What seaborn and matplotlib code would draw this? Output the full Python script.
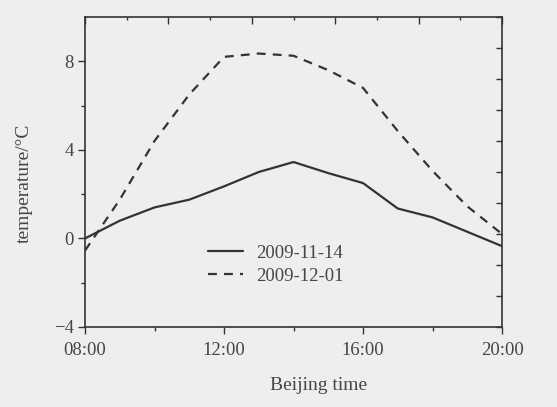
import matplotlib
matplotlib.use("Agg")
import matplotlib.pyplot as plt
import numpy as np
import pandas as pd
import seaborn as sns

# hourly readings, 08:00 .. 20:00
HOURS = [8, 9, 10, 11, 12, 13, 14, 15, 16, 17, 18, 19, 20]
TEMP_1114 = [0.0, 0.8, 1.4, 1.75, 2.35, 3.0, 3.45, 2.95, 2.5, 1.35, 0.95, 0.3, -0.35]
TEMP_1201 = [-0.55, 1.75, 4.4, 6.5, 8.2, 8.35, 8.25, 7.6, 6.8, 4.85, 3.05, 1.45, 0.2]
SERIES = ["2009-11-14", "2009-12-01"]

X_TICKS = [8, 12, 16, 20]
X_LABELS = ["08:00", "12:00", "16:00", "20:00"]
Y_TICKS = [-4, 0, 4, 8]

df = pd.DataFrame({
    "hour": HOURS * 2,
    "temp": TEMP_1114 + TEMP_1201,
    "date": [SERIES[0]] * len(HOURS) + [SERIES[1]] * len(HOURS),
})

sns.set_theme(style="ticks")
plt.rcParams["font.family"] = ["Liberation Serif", "DejaVu Serif"]

BG = "#eeeeee"
INK = "#333333"
TXT = "#454545"

fig = plt.figure(figsize=(5.57, 4.07), dpi=100, facecolor=BG)
ax = fig.add_axes([0.1526, 0.1966, 0.7487, 0.7616])
ax.set_facecolor(BG)

sns.lineplot(
    data=df, x="hour", y="temp", style="date", style_order=SERIES,
    dashes={SERIES[0]: "", SERIES[1]: (4, 3.2)},
    color=INK, linewidth=1.6, ax=ax,
)

ax.set_xlim(8, 20)
ax.set_ylim(-4, 10)
ax.set_xticks(X_TICKS)
ax.set_xticklabels(X_LABELS)
ax.set_xticks([10, 14, 18], minor=True)
ax.set_yticks(Y_TICKS)
ax.set_yticks([-2, 2, 6], minor=True)
ax.tick_params(which="major", direction="out", length=5, width=1, color=INK,
               labelsize=13.5, labelcolor=TXT)
ax.tick_params(axis="x", which="major", pad=6)
ax.tick_params(axis="y", which="major", pad=3)
ax.tick_params(which="minor", direction="out", length=3, width=1, color=INK)

for sp in ax.spines.values():
    sp.set_visible(True)
    sp.set_color(INK)
    sp.set_linewidth(1.2)

# the frame's top and right edges are split into ten parts
top = ax.twiny()
top.set_xlim(0, 10)
top.set_xticks([0, 2, 4, 6, 8, 10])
top.set_xticks([1, 3, 5, 7, 9], minor=True)
top.tick_params(which="major", direction="in", length=5, width=1, color=INK, labeltop=False)
top.tick_params(which="minor", direction="in", length=2.5, width=1, color=INK)
right = ax.twinx()
right.set_ylim(0, 10)
right.set_yticks(range(11))
right.tick_params(direction="in", length=4, width=1, color=INK, labelright=False)
for a in (top, right):
    for sp in a.spines.values():
        sp.set_visible(False)

ax.set_xlabel("Beijing time", fontsize=14, color=TXT)
ax.set_ylabel("temperature/\u00b0C", fontsize=14, color=TXT)
ax.xaxis.set_label_coords(0.56, -0.16)
ax.yaxis.set_label_coords(-0.125, 0.465)

leg = ax.legend(
    loc="center left", bbox_to_anchor=(0.295, 0.201), frameon=False,
    fontsize=13.5, handlelength=1.85, handletextpad=0.7, labelspacing=0.33,
    borderpad=0, borderaxespad=0,
)
for t in leg.get_texts():
    t.set_color(TXT)

fig.savefig("out.png", dpi=100, facecolor=BG)
